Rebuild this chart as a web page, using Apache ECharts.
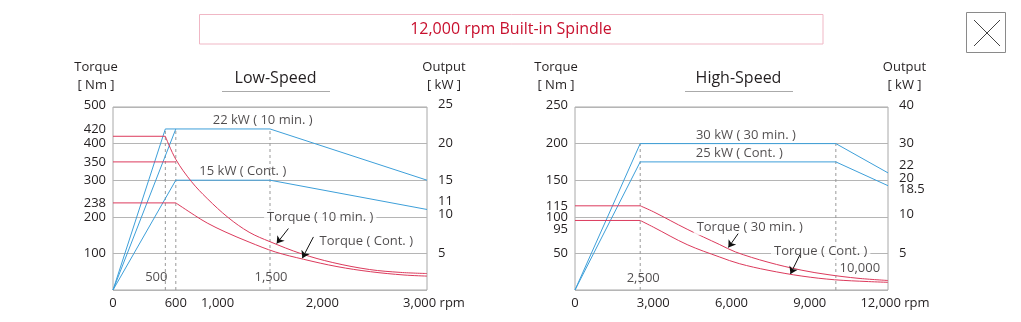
<!DOCTYPE html>
<html><head><meta charset="utf-8">
<script src="https://cdn.jsdelivr.net/npm/echarts@6/dist/echarts.min.js"></script>
<style>html,body{margin:0;padding:0;background:#fff}#c{width:1021px;height:322px}</style>
</head><body><div id="c"></div>
<script>
// ---------------- data ----------------
const mainTitle = '12,000 rpm Built-in Spindle';
const lowTitle = 'Low-Speed';
const highTitle = 'High-Speed';

// Low-speed chart
const lowRpmTicks = [0, 600, 1000, 2000, 3000];
const lowTorqueTicks = [100, 200, 238, 300, 350, 400, 420, 500];
const lowPowerTicks = [5, 10, 11, 15, 20, 25];
const lowTorque10 = [[0,420],[500,420],[600,357],[750,296],[900,250],[1100,198],[1300,158],[1500,132],[1800,99],[2100,75],[2450,56],[2750,48],[3000,45]];
const lowTorqueCont = [[0,238],[600,238],[780,204],[900,183],[1070,159],[1300,131],[1550,104],[1820,84],[2140,64],[2460,50],[2780,41],[3000,38]];
const lowTorque350 = [[0,350],[600,350]];
const lowPower10 = [[0,0],[500,22],[1500,22],[3000,15]];
const lowPowerCont = [[0,0],[600,15],[1500,15],[3000,11]];
const lowPower350 = [[0,0],[600,22]];
const lowGuideRpm = [500, 600, 1500];
const lowGuideTopKw = [22, 22, 22];
const lowInnerTicks = [500, 1500];
const lowNotes = [
  ['22 kW ( 10 min. )', 1430, 22, 'p'],
  ['15 kW ( Cont. )', 1240, 15, 'p'],
  ['Torque ( 10 min. )', 1980, 199, 't'],
  ['Torque ( Cont. )', 2420, 134, 't']
];
const lowArrows = [[[1676,168],[1564,127]], [[1915,145],[1809,87]]];

// High-speed chart
const highRpmTicks = [0, 3000, 6000, 9000, 12000];
const highTorqueTicks = [50, 95, 100, 115, 150, 200, 250];
const highPowerTicks = [5, 10, 18.5, 20, 22, 30, 40];
const highPowerScale = [0, 5, 10, 20, 30, 40]; // evenly spaced on the drawn output axis
const highTorque30 = [[0,115],[2500,115],[3000,107],[4300,83],[5550,62],[6150,52],[7400,38],[8700,27],[9700,21],[10850,16],[12000,13]];
const highTorqueCont = [[0,95],[2500,95],[3000,86],[4300,62],[5550,45],[6300,36],[7400,27],[8700,19],[9950,14],[11250,11.5],[12000,10.5]];
const highPower30 = [[0,0],[2500,30],[10000,30],[12000,22]];
const highPowerCont = [[0,0],[2500,25],[10000,25],[12000,18.5]];
const highGuideRpm = [2500, 10000];
const highGuideTopKw = [30, 30];
const highInnerTicks = [2500, 10000];
const highNotes = [
  ['30 kW ( 30 min. )', 6550, 30, 'p'],
  ['25 kW ( Cont. )', 6300, 25, 'p'],
  ['Torque ( 30 min. )', 6700, 85, 't'],
  ['Torque ( Cont. )', 9420, 53, 't']
];
const highArrows = [[[6254,77],[5880,58]], [[8617,47.7],[8261,22]]];

// ---------------- styling ----------------
const FONT = '"Open Sans", "Noto Sans", sans-serif';
const TXT = '#231f20';
const RED = '#dc3a5c';
const BLUE = '#3d9fd9';
const GRIDC = '#b5b5b5';
const FRAME = '#a8a8a8';
const fmt = v => Number(v).toLocaleString('en-US');

function kwToPos(kw) {
  const s = highPowerScale;
  for (let i = 1; i < s.length; i++) {
    if (kw <= s[i]) return (i - 1) + (kw - s[i-1]) / (s[i] - s[i-1]);
  }
  return s.length - 1;
}
const toHighPos = arr => arr.map(([r, k]) => [r, kwToPos(k)]);

const rich = {
  u2: {padding: [0,0,4,0]}, u3: {padding: [0,0,6,0]}, u7: {padding: [0,0,14,0]},
  u8: {padding: [0,0,16,0]}, d4: {padding: [8,0,0,0]}, d9: {padding: [18,0,0,0]},
  pad: {width: 14}
};
const shiftLowT = {500:'u2', 420:'u7'};
const shiftLowP = {25:'u3', 11:'u8', 10:'u3'};
const shiftHighT = {250:'u2', 95:'d9'};
const shiftHighP = {40:'u2', 22:'u8', 20:'u2', 18.5:'d4', 10:'u3'};
const shifted = (map, key, text) => map[key] ? '{' + map[key] + '|' + text + '}' : text;

const labelBase = {color: TXT, fontSize: 13, fontFamily: FONT, rich: rich, hideOverlap: false};

function xAxisCfg(gi, max, ticks) {
  return {
    type: 'value', gridIndex: gi, min: 0, max: max,
    axisLine: {show: false}, axisTick: {show: false}, splitLine: {show: false},
    axisLabel: Object.assign({}, labelBase, {
      customValues: ticks, margin: 7,
      formatter: v => v === max ? '{pad|}' + fmt(v) + ' rpm' : fmt(v)
    })
  };
}
function yAxisCfg(gi, pos, max, interval, ticks, fmtFn, name, namePad, split) {
  return {
    type: 'value', gridIndex: gi, position: pos, min: 0, max: max, interval: interval,
    axisLine: {show: false}, axisTick: {show: false},
    splitLine: {show: split, lineStyle: {color: GRIDC, width: 1}},
    name: name, nameLocation: 'end', nameGap: 13,
    nameTextStyle: {color: TXT, fontSize: 13, fontFamily: FONT, align: 'center', lineHeight: 18, padding: namePad},
    axisLabel: Object.assign({}, labelBase, {customValues: ticks, margin: pos === 'left' ? 7 : 11, formatter: fmtFn})
  };
}

const series = [];
function addLine(data, xi, yi, color, extra) {
  series.push(Object.assign({
    type: 'line', xAxisIndex: xi, yAxisIndex: yi, data: data,
    symbol: 'none', showSymbol: false, silent: true, animation: false,
    lineStyle: {color: color, width: 1}, z: 3
  }, extra || {}));
}
function addTorque(data, xi, yi) {
  addLine(data.slice(0, 2), xi, yi, RED);
  addLine(data.slice(1), xi, yi, RED, {smooth: 0.35});
}
function addGuides(rpms, tops, xi, yi, mapper) {
  rpms.forEach((r, i) => addLine([[r, 0], [r, mapper(tops[i])]], xi, yi, '#9a9a9a',
    {lineStyle: {color: '#9a9a9a', width: 1, type: [3, 3]}, z: 2}));
}
function addInnerTicks(ticks, offsets, xi, yi) {
  series.push({
    type: 'scatter', xAxisIndex: xi, yAxisIndex: yi, symbolSize: 0, silent: true, animation: false, z: 6,
    data: ticks.map((r, i) => ({
      value: [r, 0],
      label: {show: true, position: 'top', formatter: fmt(r), distance: offsets[i][1],
        offset: [offsets[i][0], 0], color: TXT, fontSize: 13, fontFamily: FONT}
    }))
  });
}
function addNotes(notes, xi, yiT, yiP, mapper) {
  notes.forEach(([text, r, v, kind]) => {
    const isP = kind === 'p';
    series.push({
      type: 'scatter', xAxisIndex: xi, yAxisIndex: isP ? yiP : yiT, symbolSize: 0,
      silent: true, animation: false, z: 6,
      data: [{value: [r, isP ? mapper(v) : v],
        label: Object.assign({show: true, formatter: text, color: TXT, fontSize: 13, fontFamily: FONT},
          isP ? {position: 'top', distance: 2} : {position: 'inside', backgroundColor: '#fff', padding: [1, 3]})}]
    });
  });
}
function addArrows(arrows, xi, yi) {
  series.push({
    type: 'lines', coordinateSystem: 'cartesian2d', xAxisIndex: xi, yAxisIndex: yi,
    silent: true, animation: false, z: 7,
    symbol: ['none', 'arrow'], symbolSize: 7,
    lineStyle: {color: '#111', width: 1, opacity: 1},
    data: arrows.map(a => ({coords: a}))
  });
}

// Low-speed: xAxis 0, yAxis 0 torque, yAxis 1 power
const idKw = v => v;
addGuides(lowGuideRpm, lowGuideTopKw, 0, 1, idKw);
addLine(lowPower10, 0, 1, BLUE);
addLine(lowPowerCont, 0, 1, BLUE);
addLine(lowPower350, 0, 1, BLUE);
addLine(lowTorque350, 0, 0, RED);
addTorque(lowTorque10, 0, 0);
addTorque(lowTorqueCont, 0, 0);
addInnerTicks(lowInnerTicks, [[-9, 6], [1, 6]], 0, 0);
addNotes(lowNotes, 0, 0, 1, idKw);
addArrows(lowArrows, 0, 0);

// High-speed: xAxis 1, yAxis 2 torque, yAxis 3 power (drawn scale)
addGuides(highGuideRpm, highGuideTopKw, 1, 3, kwToPos);
addLine(toHighPos(highPower30), 1, 3, BLUE);
addLine(toHighPos(highPowerCont), 1, 3, BLUE);
addTorque(highTorque30, 1, 2);
addTorque(highTorqueCont, 1, 2);
addInnerTicks(highInnerTicks, [[3, 5], [24, 15]], 1, 2);
addNotes(highNotes, 1, 2, 3, kwToPos);
addArrows(highArrows, 1, 2);

const highPosTicks = highPowerTicks.map(kwToPos);
const highPosLabel = v => {
  const i = highPosTicks.findIndex(p => Math.abs(p - v) < 1e-6);
  const k = highPowerTicks[i];
  return shifted(shiftHighP, k, String(k));
};

const chart = echarts.init(document.getElementById('c'), null, {renderer: 'canvas'});
chart.setOption({
  animation: false,
  backgroundColor: '#fff',
  textStyle: {fontFamily: FONT},
  grid: [
    {left: 113, top: 107, width: 314, height: 183, show: true, borderColor: FRAME, borderWidth: 1, backgroundColor: 'transparent'},
    {left: 575, top: 107, width: 313, height: 183, show: true, borderColor: FRAME, borderWidth: 1, backgroundColor: 'transparent'}
  ],
  xAxis: [xAxisCfg(0, 3000, lowRpmTicks), xAxisCfg(1, 12000, highRpmTicks)],
  yAxis: [
    yAxisCfg(0, 'left', 500, 100, lowTorqueTicks, v => shifted(shiftLowT, v, String(v)), 'Torque\n[ Nm ]', [0, 34, 0, 0], true),
    yAxisCfg(0, 'right', 25, 5, lowPowerTicks, v => shifted(shiftLowP, v, String(v)), 'Output\n[ kW ]', [0, 0, 0, 34], false),
    yAxisCfg(1, 'left', 250, 50, highTorqueTicks, v => shifted(shiftHighT, v, String(v)), 'Torque\n[ Nm ]', [0, 38, 0, 0], true),
    yAxisCfg(1, 'right', 5, 1, highPosTicks, highPosLabel, 'Output\n[ kW ]', [0, 0, 0, 33], false)
  ],
  graphic: [
    {type: 'rect', shape: {x: 199.5, y: 14.5, width: 623.5, height: 29.5}, style: {fill: '#fff', stroke: '#f0b7c5', lineWidth: 1}, silent: true},
    {type: 'text', x: 511, y: 29.5, style: {text: mainTitle, align: 'center', verticalAlign: 'middle', fill: '#c8102e', font: '16px ' + FONT}, silent: true},
    {type: 'text', x: 275.5, y: 78, style: {text: lowTitle, align: 'center', verticalAlign: 'middle', fill: TXT, font: '16px ' + FONT}, silent: true},
    {type: 'line', shape: {x1: 222, y1: 91.5, x2: 330, y2: 91.5}, style: {stroke: '#aaa', lineWidth: 1}, silent: true},
    {type: 'text', x: 738.5, y: 78, style: {text: highTitle, align: 'center', verticalAlign: 'middle', fill: TXT, font: '16px ' + FONT}, silent: true},
    {type: 'line', shape: {x1: 685, y1: 91.5, x2: 793, y2: 91.5}, style: {stroke: '#aaa', lineWidth: 1}, silent: true},
    {type: 'rect', shape: {x: 966.5, y: 12.5, width: 39, height: 40}, style: {fill: '#fff', stroke: '#8a8a8a', lineWidth: 1}, silent: true},
    {type: 'line', shape: {x1: 974, y1: 20, x2: 1000, y2: 46}, style: {stroke: '#444', lineWidth: 1}, silent: true},
    {type: 'line', shape: {x1: 1000, y1: 20, x2: 974, y2: 46}, style: {stroke: '#444', lineWidth: 1}, silent: true}
  ],
  series: series
});
</script>
</body></html>
